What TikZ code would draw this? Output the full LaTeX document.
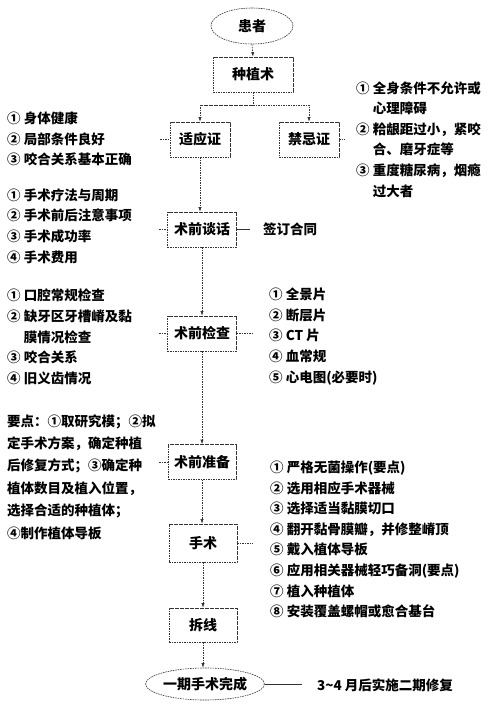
\documentclass[tikz,border=0pt]{standalone}
\usepackage{fontspec}
\setmainfont{Noto Sans CJK SC}
\usetikzlibrary{arrows.meta}
\usetikzlibrary{shapes.geometric}

\tikzset{
  stepbox/.style={draw=black!80, dash pattern=on 1.6pt off 0.9pt, line width=0.6pt,
    minimum width=68pt, minimum height=35pt, inner sep=0pt, font=\fontsize{14}{16}\selectfont\bfseries},
  endcap/.style={stepbox, ellipse, minimum height=33pt},
  itemlist/.style={align=left, anchor=west, inner sep=0pt, font=\fontsize{13.5}{20.6}\selectfont\bfseries},
  flow/.style={draw=black!80, dash pattern=on 1.6pt off 0.9pt, line width=0.6pt},
  flowarrow/.style={flow, -{Latex[length=4.5pt,width=3.2pt]}},
  solidline/.style={draw=black!80, line width=0.6pt}
}

\begin{document}
\begin{tikzpicture}[x=1pt, y=-1pt]
                \useasboundingbox (0,0) rectangle (500,716);
                \node[endcap, minimum width=82pt, minimum height=36pt] (patient) at (252,26) {患者};
                \node[stepbox, minimum width=80pt] (implant) at (253,74.5) {种植术};
                \node[stepbox, minimum width=60pt] (indic) at (200,139.5) {适应证};
                \node[stepbox, minimum width=60pt] (contra) at (309,139.5) {禁忌证};
                \node[stepbox, minimum width=69pt] (talk) at (202,229.5) {术前谈话};
                \node[stepbox, minimum width=69pt] (exam) at (202,333.5) {术前检查};
                \node[stepbox] (prep) at (202,462) {术前准备};
                \node[stepbox, minimum height=38pt] (surgery) at (203,543) {手术};
                \node[stepbox, minimum height=34pt] (suture) at (203,625) {拆线};
                \node[endcap, minimum width=116pt, minimum height=32pt] (done) at (205,684) {一期手术完成};

                \node[itemlist] (indiclist) at (7,139) {① 身体健康\\② 局部条件良好\\③ 咬合关系基本正确};
                \node[itemlist] (contralist) at (356,139.5) {① 全身条件不允许或\\\hphantom{①} 心理障碍\\② 粭龈距过小，紧咬\\\hphantom{①} 合、磨牙症等\\③ 重度糖尿病，烟瘾\\\hphantom{①} 过大者};
                \node[itemlist] (talklist) at (7,226) {① 手术疗法与周期\\② 手术前后注意事项\\③ 手术成功率\\④ 手术费用};
                \node[itemlist] (sign) at (263,229.5) {签订合同};
                \node[itemlist] (examleft) at (7,337) {① 口腔常规检查\\② 缺牙区牙槽嵴及黏\\\hphantom{①} 膜情况检查\\③ 咬合关系\\④ 旧义齿情况};
                \node[itemlist] (examright) at (269,336.5) {① 全景片\\② 断层片\\③ CT 片\\④ 血常规\\⑤ 心电图(必要时)};
                \node[itemlist, font=\fontsize{13.5}{22.4}\selectfont\bfseries] (keypts) at (7,477) {要点：①取研究模；②拟\\定手术方案，确定种植\\后修复方式；③确定种\\植体数目及植入位置，\\选择合适的种植体；\\④制作植体导板};
                \node[itemlist] (surglist) at (270,539.5) {① 严格无菌操作(要点)\\② 选用相应手术器械\\③ 选择适当黏膜切口\\④ 翻开黏骨膜瓣，并修整嵴顶\\⑤ 戴入植体导板\\⑥ 应用相关器械轻巧备洞(要点)\\⑦ 植入种植体\\⑧ 安装覆盖螺帽或愈合基台};
                \node[itemlist] (stage2) at (317,685) {3\textasciitilde4 月后实施二期修复};

                \coordinate (split) at (253,105);
                \coordinate (indictick) at (160,139.5);
                \coordinate (contratick) at (345,139.5);
                \coordinate (talktick) at (159,229.5);
                \coordinate (signtick) at (250,229.5);
                \coordinate (examtick) at (159,333.5);
                \coordinate (examrtick) at (253,333.5);
                \coordinate (preptick) at (159,462);
                \coordinate (surgtick) at (253,543);
                \coordinate (donetick) at (302,684);

                \draw[flowarrow] (patient.south) -- (implant.north);
                \draw[flow] (implant.south) -- (split);
                \draw[flowarrow] (split) -| (indic.north);
                \draw[flowarrow] (split) -| (contra.north);
                \draw[flowarrow] (indic.south) -- (indic.south |- talk.north);
                \draw[flowarrow] (talk.south) -- (exam.north);
                \draw[flowarrow] (exam.south) -- (prep.north);
                \draw[flowarrow] (prep.south) -- (prep.south |- surgery.north);
                \draw[flowarrow] (surgery.south) -- (suture.north);
                \draw[flowarrow] (suture.south) -- (suture.south |- done.north);

                \draw[flow] (indictick) -- (indic.west);
                \draw[flow] (contra.east) -- (contratick);
                \draw[flow] (talktick) -- (talk.west);
                \draw[solidline] (talk.east) -- (signtick);
                \draw[flow] (examtick) -- (exam.west);
                \draw[flow] (exam.east) -- (examrtick);
                \draw[flow] (preptick) -- (prep.west);
                \draw[flow] (surgery.east) -- (surgtick);
                \draw[solidline] (done.east) -- (donetick);
\end{tikzpicture}
\end{document}
